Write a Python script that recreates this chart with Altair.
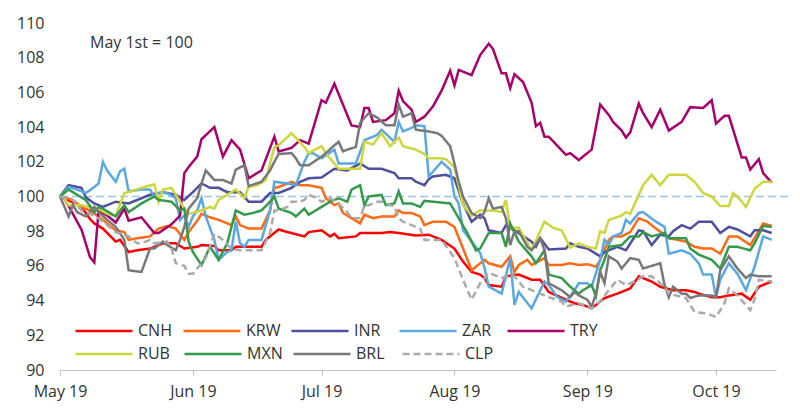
import altair as alt
import pandas as pd

FONT = "Open Sans"

ROW1 = ["CNH", "KRW", "INR", "ZAR", "TRY"]
ROW1_COLORS = ["#ff0000", "#ff6a13", "#4f4f9f", "#5aa8e0", "#a6006b"]
ROW2 = ["RUB", "MXN", "BRL", "CLP"]
ROW2_COLORS = ["#cdd63c", "#34994a", "#787878", "#aaaaaa"]
ROW2_DASHES = [[1, 0], [1, 0], [1, 0], [7, 4]]

MONTHS = ["2019-05-01", "2019-06-01", "2019-07-01", "2019-08-01", "2019-09-01", "2019-10-01"]
Y_TICKS = [90, 92, 94, 96, 98, 100, 102, 104, 106, 108, 110]

# day offsets from 1 May 2019 and index values (May 1st = 100)
TRY_day = [0,1,5,7,8,9,11,13,15,16,19,22,23,26,28,29,30,32,33,36,38,40,42,44,47,50,51,54,56,58,61,62,64,68,70,71,72,73,76,78,79,80,82,83,85,87,89,91,92,93,96,98,100,101,103,104,105,106,108,110,111,112,113,114,118,119,121,124,126,128,129,131,132,133,135,136,138,140,142,145,147,150,152,153,155,156,159,160,161,163,164,166]
TRY_val = [100,99.9,98.1,96.5,96.2,99.2,98.9,98.5,99.3,98.6,98.8,97.9,97.9,98.4,98.9,101.35,101.7,102.3,103.3,104.0,102.3,103.25,102.7,101.05,101.5,103.45,102.6,102.8,103.25,103.05,105.55,105.4,106.5,104.1,104.0,105.1,105.1,104.3,104.4,104.8,106.1,105.5,105.0,104.3,104.6,105.2,106.1,107.25,106.4,107.3,107.0,108.15,108.8,108.5,107.1,107.1,106.25,107.05,106.6,105.4,104.05,104.25,103.45,103.45,102.4,102.5,102.1,102.7,105.3,104.7,104.3,103.8,103.4,103.7,105.35,104.8,104.0,105.0,103.8,104.3,105.15,105.1,105.55,104.2,104.65,104.65,102.25,102.25,101.55,102.15,101.35,100.8]

RUB_day = [0,1,2,5,8,9,11,13,15,16,19,22,23,24,26,29,30,33,35,36,37,41,43,44,46,48,50,51,54,57,58,61,62,65,70,71,73,75,77,79,80,83,85,86,89,90,92,94,96,98,101,103,104,105,107,110,113,115,117,119,121,123,125,126,127,128,131,132,133,136,138,140,142,146,148,150,152,154,156,157,158,160,162,164,166]
RUB_val = [100,99.9,99.5,99.5,99.3,99.3,99.0,98.9,100.2,100.25,100.5,100.7,99.7,100.4,100.5,99.3,99.0,99.2,99.4,99.3,99.8,100.4,99.9,100.55,100.65,100.95,102.85,102.95,103.65,102.85,102.5,102.9,102.5,101.6,101.6,103.15,103.0,103.65,102.9,103.4,102.9,102.7,102.45,102.2,102.2,102.15,101.7,99.5,98.9,99.2,99.2,99.1,99.8,98.2,98.2,96.9,98.55,98.2,98.05,97.05,97.3,97.1,97.0,98.0,97.9,98.65,98.9,99.1,99.0,100.65,101.25,100.65,101.25,101.25,100.85,100.2,100.0,99.45,99.45,100.2,100.0,99.4,100.45,100.85,100.85]

INR_day = [0,2,5,6,8,10,13,16,21,24,27,29,31,33,35,37,39,42,44,47,49,51,54,56,58,61,64,67,70,72,75,78,79,82,83,85,86,87,90,92,94,96,98,99,100,103,104,106,110,111,112,114,118,119,121,123,126,127,130,132,135,136,138,140,142,143,145,147,149,152,154,156,158,161,162,164,166]
INR_val = [100,100.65,100.5,99.95,99.6,99.4,99.7,99.6,100.1,100.25,100.1,99.8,100.25,100.75,100.5,100.5,100.25,100.25,99.7,99.7,100.2,100.2,100.5,100.85,101.05,101.1,101.6,101.5,101.9,101.6,101.6,101.35,101.05,101.05,100.85,100.65,101.0,101.15,101.25,101.05,99.6,98.55,98.95,98.75,98.05,97.9,98.35,98.05,97.4,97.1,97.6,96.95,97.0,97.3,97.1,97.0,96.55,96.8,97.1,96.9,98.05,98.0,97.2,97.8,97.7,98.0,98.35,98.15,98.55,98.55,97.9,98.25,98.1,97.7,98.05,98.05,97.9]

ZAR_day = [0,2,4,6,8,9,10,11,13,14,15,16,19,21,22,23,25,27,28,29,30,31,32,33,34,36,37,39,40,41,42,43,44,47,49,50,53,55,57,58,59,61,64,65,69,71,74,75,78,79,80,82,83,85,86,89,91,92,93,94,96,98,99,100,103,105,106,107,110,113,114,116,118,120,121,123,124,126,127,128,129,131,132,133,135,136,139,141,142,145,147,149,150,152,153,154,156,158,160,162,164,166]
ZAR_val = [100,100.55,100.4,100.2,100.55,100.75,102.0,101.5,100.85,101.45,101.6,100.3,100.4,100.4,100.0,100.2,100.2,99.9,98.65,98.9,98.25,98.85,99.2,99.9,98.85,97.5,96.35,96.8,96.9,98.55,97.3,97.1,97.5,97.5,99.2,100.85,100.75,100.65,102.0,102.5,102.5,102.2,102.7,101.9,101.9,103.25,103.55,103.85,103.15,104.3,103.75,103.95,104.1,104.05,101.15,102.0,101.55,100.0,99.6,98.05,97.4,96.75,95.9,94.8,94.4,96.45,93.75,94.5,93.55,95.1,94.9,94.2,93.95,94.6,95.0,95.0,94.8,96.35,97.5,97.2,97.7,97.9,98.65,98.45,99.05,99.1,98.55,98.25,96.7,96.9,96.7,96.15,95.5,95.5,94.2,95.2,96.15,95.55,94.6,95.95,97.7,97.5]

KRW_day = [0,3,5,7,9,12,13,15,16,18,21,23,25,27,29,30,32,33,35,37,40,41,42,44,47,49,50,51,54,56,58,61,62,64,65,66,68,70,71,73,75,78,79,80,82,84,85,87,90,92,94,96,99,100,103,105,106,107,109,110,113,114,117,119,121,123,125,126,128,129,131,133,135,137,139,141,142,146,148,150,152,154,156,158,161,162,164,166]
KRW_val = [100,99.8,99.4,99.2,98.85,98.25,98.05,97.95,97.5,97.6,97.7,98.15,98.3,98.15,97.5,97.95,98.6,99.0,98.8,98.65,98.35,98.85,98.35,98.15,98.15,99.2,100.5,100.55,100.85,100.65,100.65,100.5,99.9,99.5,99.6,99.05,98.75,98.45,98.95,98.75,98.85,98.85,99.2,99.05,99.05,98.85,98.35,98.55,98.55,98.25,97.0,95.75,96.35,96.15,95.95,96.55,95.65,96.05,96.35,96.05,96.45,96.05,96.05,96.15,96.05,96.1,95.95,96.35,97.5,97.7,97.7,97.95,98.75,98.55,98.15,97.8,97.6,97.4,97.1,97.0,97.0,96.7,97.7,97.7,97.2,97.6,98.45,98.3]

MXN_day = [0,2,4,6,8,9,10,13,15,16,19,22,23,26,28,29,30,31,33,35,37,39,41,43,45,47,49,50,51,54,55,57,58,61,63,65,67,68,70,71,72,75,76,78,79,80,82,84,85,87,91,93,95,97,98,100,103,104,105,107,110,111,113,114,117,119,121,122,124,125,126,127,128,131,133,135,136,138,141,142,146,147,149,152,154,156,158,161,162,164,166]
MXN_val = [100,100.4,100.1,99.8,99.1,99.4,99.3,98.85,99.5,99.1,99.6,100.0,99.8,99.7,99.2,99.3,97.4,96.8,96.05,97.1,96.35,97.3,99.2,98.95,99.05,99.2,99.7,100.0,99.3,99.05,98.85,99.3,98.95,99.4,99.7,99.9,99.7,100.4,100.65,99.5,100.0,100.1,99.5,99.6,100.3,99.6,99.6,99.4,99.75,99.7,99.6,98.75,97.9,96.9,97.0,97.9,97.9,97.1,98.45,97.4,96.55,96.15,96.9,95.5,95.3,94.8,94.4,94.6,94.9,94.25,95.75,96.35,97.1,97.2,97.7,97.7,97.95,97.7,97.9,97.6,97.6,97.0,96.65,96.35,95.85,97.1,97.1,96.9,97.3,98.3,98.25]

CNH_day = [0,1,5,7,8,10,13,14,16,18,21,24,27,29,32,33,36,37,40,41,47,48,51,53,57,58,61,63,64,65,69,70,75,77,79,83,86,89,92,94,96,98,99,100,103,104,107,110,112,114,118,120,122,124,127,130,133,135,138,140,143,146,148,149,152,154,156,159,161,163,166]
CNH_val = [100,99.9,99.4,98.7,98.45,98.15,97.4,97.5,96.8,96.9,97.0,97.3,97.3,97.0,97.1,97.2,97.15,96.9,96.9,97.1,97.1,97.5,98.1,97.95,97.7,97.95,98.05,97.7,97.85,97.6,97.7,97.9,97.9,97.95,97.9,97.75,97.8,97.5,97.0,96.25,95.65,95.5,95.3,94.9,94.8,95.4,95.5,95.2,95.2,94.5,94.05,93.85,93.75,93.55,94.15,94.4,94.7,95.4,95.1,94.8,94.6,94.6,94.5,94.4,94.2,94.2,94.3,94.4,94.05,94.8,95.1]

BRL_day = [0,2,3,4,6,8,9,11,13,15,16,19,21,22,24,25,27,28,29,30,32,33,34,36,38,40,41,43,44,47,49,50,51,54,55,56,58,61,62,64,65,66,67,69,70,72,74,76,78,79,80,82,83,86,88,89,91,92,93,94,96,98,99,100,101,103,104,105,106,107,109,110,112,113,114,117,119,120,121,123,124,125,126,127,128,130,131,133,135,136,138,140,141,142,143,145,146,147,149,152,153,154,156,158,160,161,163,166]
BRL_val = [100,98.85,99.5,99.1,98.85,99.4,99.1,98.65,98.25,97.5,95.75,95.65,97.0,97.0,97.4,97.2,96.9,97.5,98.25,99.3,99.9,100.75,101.5,100.95,100.95,100.75,101.55,101.8,100.6,100.85,101.5,102.0,102.45,102.5,102.2,101.8,101.8,102.3,102.5,102.95,103.15,102.6,102.7,102.85,104.25,104.8,104.55,104.1,104.1,105.3,104.6,104.8,103.85,103.75,103.65,103.5,102.9,101.9,100.85,100.0,99.05,98.75,99.1,99.9,99.3,99.4,98.75,97.2,98.0,98.0,97.1,96.9,97.6,96.9,95.0,94.6,94.2,94.5,94.3,94.05,93.65,94.4,95.65,95.0,96.55,96.25,95.85,96.45,96.35,95.85,96.0,96.15,94.9,94.2,94.8,94.4,94.4,94.15,94.3,94.3,94.2,95.75,96.55,95.85,95.3,95.5,95.4,95.4]

CLP_day = [0,3,5,7,9,11,13,16,18,19,21,22,25,26,27,29,30,31,32,34,36,38,40,42,47,49,50,51,53,54,56,57,58,60,61,63,65,67,68,70,71,72,74,75,77,78,79,80,82,84,85,89,92,94,96,98,100,103,105,106,108,110,114,117,118,121,124,126,128,130,132,134,136,138,141,142,146,148,151,153,155,156,158,161,162,163,166]
CLP_val = [100,99.8,99.2,99.0,98.75,98.35,97.95,97.7,97.3,97.3,97.5,97.3,97.4,97.0,96.15,96.0,95.55,95.55,95.85,96.45,97.85,97.5,97.0,96.9,96.9,97.9,99.2,99.2,99.4,99.7,99.7,99.8,100.1,99.9,99.7,99.9,99.6,99.1,98.75,98.75,99.5,99.5,99.7,99.7,99.5,99.45,98.75,98.55,98.35,98.15,97.5,97.5,96.45,95.2,94.05,95.0,95.6,95.3,95.5,95.4,94.8,94.6,94.2,93.95,93.65,93.85,93.55,93.95,94.6,95.2,94.9,95.1,95.4,95.4,94.8,94.4,94.15,93.35,93.25,93.05,93.85,94.7,94.3,93.45,94.05,95.2,95.1]

DATA = {
    "CNH": (CNH_day, CNH_val), "KRW": (KRW_day, KRW_val), "INR": (INR_day, INR_val),
    "ZAR": (ZAR_day, ZAR_val), "TRY": (TRY_day, TRY_val), "RUB": (RUB_day, RUB_val),
    "MXN": (MXN_day, MXN_val), "BRL": (BRL_day, BRL_val), "CLP": (CLP_day, CLP_val),
}

base = pd.Timestamp("2019-05-01")

def frame(names):
    rows = []
    for name in names:
        days, vals = DATA[name]
        assert len(days) == len(vals), (name, len(days), len(vals))
        for d, v in zip(days, vals):
            rows.append({"series": name,
                         "date": (base + pd.Timedelta(days=d)).strftime("%Y-%m-%d"),
                         "value": v})
    return pd.DataFrame(rows)

def dt(s):
    y, m, d = map(int, s.split("-"))
    return alt.DateTime(year=y, month=m, date=d, utc=True)

X_SCALE = alt.Scale(type="utc", domain=[dt("2019-05-01"), dt("2019-10-15")])
Y_SCALE = alt.Scale(domain=[90, 110], nice=False, zero=False)
X_AXIS = alt.Axis(
    title=None, values=[dt(m) for m in MONTHS],
    labelExpr="utcFormat(datum.value, '%b %y')",
    grid=False, domainColor="#bfbfbf", tickColor="#bfbfbf", tickSize=5,
    labelPadding=8, labelFontSize=16, labelFont=FONT, labelColor="#333333",
    labelAlign="center", labelFlush=False, labelOverlap=False,
)
Y_AXIS = alt.Axis(
    title=None, values=Y_TICKS, grid=False, domain=False, ticks=False,
    labelPadding=16, labelFontSize=16, labelFont=FONT, labelColor="#333333",
    labelOverlap=False,
)

def make_legend(y):
    return alt.Legend(
        title=None, orient="none", legendX=14, legendY=y, direction="horizontal",
        columns=5, symbolType="stroke", symbolSize=3249, symbolStrokeWidth=2.6,
        labelFontSize=16, labelFont=FONT, labelColor="#333333", labelOffset=4,
        columnPadding=5, gridAlign="all", padding=0,
    )

leg1 = make_legend(278)
leg2 = make_legend(301)

lines1 = alt.Chart(frame(ROW1)).mark_line(strokeWidth=2.5).encode(
    x=alt.X("date:T", scale=X_SCALE, axis=X_AXIS),
    y=alt.Y("value:Q", scale=Y_SCALE, axis=Y_AXIS),
    color=alt.Color("series:N", scale=alt.Scale(domain=ROW1, range=ROW1_COLORS),
                    sort=ROW1, legend=leg1),
)

lines2 = alt.Chart(frame(ROW2)).mark_line(strokeWidth=2.5).encode(
    x=alt.X("date:T", scale=X_SCALE, axis=X_AXIS),
    y=alt.Y("value:Q", scale=Y_SCALE, axis=Y_AXIS),
    color=alt.Color("series:N", scale=alt.Scale(domain=ROW2, range=ROW2_COLORS),
                    sort=ROW2, legend=leg2),
    strokeDash=alt.StrokeDash("series:N", scale=alt.Scale(domain=ROW2, range=ROW2_DASHES),
                              sort=ROW2, legend=leg2),
)

ref = alt.Chart(pd.DataFrame({"v": [100]})).mark_rule(
    color="#9dc3e6", strokeWidth=1.5, strokeDash=[8, 4]
).encode(y=alt.Y("v:Q", scale=Y_SCALE, axis=Y_AXIS), x=alt.value(0), x2=alt.value(738))

note = alt.Chart(pd.DataFrame({"t": ["May 1st = 100"]})).mark_text(
    align="left", baseline="middle", fontSize=16, font=FONT, color="#333333"
).encode(text="t:N", x=alt.value(30), y=alt.value(20))

chart = alt.layer(ref, lines1, lines2, note).resolve_scale(
    color="independent", strokeDash="independent"
).properties(
    width=716, height=347,
    autosize=alt.AutoSizeParams(type="none"),
    padding={"left": 52, "top": 15, "right": 16, "bottom": 34},
).configure_view(stroke=None)

chart.save("out.html", embed_options={"renderer": "svg", "actions": False})
